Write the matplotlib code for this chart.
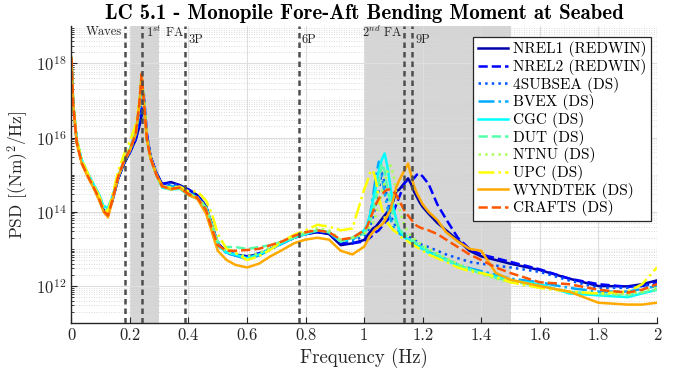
import numpy as np
import matplotlib
matplotlib.use("Agg")
import matplotlib.pyplot as plt
from matplotlib.ticker import FixedLocator, FuncFormatter, NullFormatter

plt.rcParams['font.family'] = 'cmr10'
plt.rcParams['mathtext.fontset'] = 'cm'
plt.rcParams['axes.formatter.use_mathtext'] = True

# frequency grid (Hz), shared by all series
freq = [0, 0.006, 0.018, 0.035, 0.055, 0.075, 0.095, 0.11, 0.125, 0.14,
        0.16, 0.18, 0.2, 0.22, 0.232, 0.24, 0.248, 0.258, 0.27, 0.29,
        0.31, 0.34, 0.37, 0.4, 0.43, 0.46, 0.48, 0.5, 0.53, 0.56,
        0.6, 0.64, 0.68, 0.72, 0.76, 0.8, 0.84, 0.88, 0.92, 0.96,
        1.0, 1.01, 1.02, 1.03, 1.04, 1.05, 1.06, 1.07, 1.08, 1.09,
        1.1, 1.11, 1.12, 1.13, 1.14, 1.15, 1.16, 1.17, 1.18, 1.19,
        1.2, 1.22, 1.25, 1.28, 1.32, 1.36, 1.4, 1.45, 1.5, 1.6,
        1.7, 1.8, 1.9, 1.95, 2.0]

# log10 of PSD [(Nm)^2/Hz]
nrel1 = [18.12, 16.9, 15.9, 15.35, 15.0, 14.7, 14.35, 14.05, 13.95, 14.3,
         14.9, 15.3, 15.6, 15.95, 16.3, 16.6, 16.82, 16.0, 15.5, 15.05,
         14.75, 14.8, 14.72, 14.6, 14.45, 14.15, 13.65, 13.15, 12.9, 12.85,
         12.8, 12.85, 13.0, 13.15, 13.3, 13.4, 13.45, 13.4, 13.1, 13.15,
         13.24, 13.35, 13.45, 13.55, 13.6, 13.7, 13.8, 13.9, 14.0, 14.1,
         14.3, 14.55, 14.6, 14.7, 14.8, 14.9, 14.75, 14.55, 14.4, 14.25,
         14.13, 13.95, 13.7, 13.5, 13.24, 12.95, 12.8, 12.7, 12.6, 12.43,
         12.2, 12.0, 11.99, 12.05, 12.15]
nrel2 = [18.12, 16.9, 15.9, 15.35, 15.0, 14.7, 14.35, 14.05, 13.95, 14.3,
         14.9, 15.3, 15.6, 15.95, 16.4, 16.8, 17.05, 16.1, 15.5, 15.05,
         14.75, 14.78, 14.7, 14.6, 14.45, 14.15, 13.65, 13.15, 12.92, 12.85,
         12.8, 12.88, 13.0, 13.15, 13.3, 13.4, 13.45, 13.42, 13.15, 13.15,
         13.2, 13.25, 13.3, 13.38, 13.45, 13.5, 13.6, 13.7, 13.78, 13.9,
         14.0, 14.2, 14.4, 14.6, 14.8, 14.85, 14.85, 14.9, 15.0, 15.03,
         14.95, 14.75, 14.2, 13.8, 13.3, 13.0, 12.85, 12.75, 12.65, 12.45,
         12.2, 12.05, 11.98, 12.0, 12.1]
subsea = [18.12, 16.9, 15.9, 15.35, 15.0, 14.7, 14.35, 14.05, 13.98, 14.3,
          14.9, 15.3, 15.62, 16.0, 16.5, 17.0, 17.15, 16.05, 15.5, 15.05,
          14.72, 14.75, 14.7, 14.55, 14.42, 14.12, 13.62, 13.12, 12.9, 12.82,
          12.78, 12.85, 13.0, 13.15, 13.3, 13.42, 13.48, 13.45, 13.2, 13.2,
          13.35, 13.45, 13.6, 13.85, 14.2, 14.6, 15.05, 14.8, 14.3, 13.95,
          13.7, 13.6, 13.5, 13.45, 13.4, 13.35, 13.3, 13.25, 13.2, 13.15,
          13.1, 13.05, 12.95, 12.85, 12.75, 12.65, 12.6, 12.55, 12.5, 12.38,
          12.15, 11.95, 11.95, 12.0, 12.05]
bvex = [18.12, 16.95, 15.95, 15.4, 15.05, 14.75, 14.45, 14.15, 14.12, 14.4,
        14.95, 15.35, 15.65, 16.1, 16.8, 17.5, 16.95, 15.95, 15.45, 15.0,
        14.65, 14.7, 14.65, 14.5, 14.38, 14.1, 13.6, 13.1, 12.88, 12.82,
        12.72, 12.82, 12.98, 13.15, 13.3, 13.4, 13.5, 13.45, 13.2, 13.25,
        13.45, 13.6, 13.9, 14.4, 14.95, 15.35, 15.0, 14.5, 14.1, 13.8,
        13.6, 13.5, 13.42, 13.36, 13.3, 13.25, 13.2, 13.15, 13.1, 13.05,
        13.0, 12.92, 12.82, 12.72, 12.58, 12.48, 12.4, 12.3, 12.2, 12.1,
        11.95, 11.85, 11.85, 11.92, 12.0]
cgc = [18.15, 16.95, 15.95, 15.4, 15.05, 14.75, 14.45, 14.15, 14.1, 14.38,
       14.95, 15.4, 15.7, 16.15, 16.9, 17.65, 16.95, 15.95, 15.45, 15.0,
       14.65, 14.6, 14.62, 14.45, 14.35, 14.1, 13.6, 13.1, 12.9, 12.85,
       12.75, 12.85, 13.0, 13.15, 13.3, 13.4, 13.5, 13.45, 13.2, 13.3,
       13.5, 13.65, 13.9, 14.3, 14.67, 15.1, 15.4, 15.57, 15.2, 14.67,
       14.1, 13.78, 13.5, 13.4, 13.3, 13.25, 13.2, 13.15, 13.1, 13.05,
       13.0, 12.9, 12.8, 12.7, 12.55, 12.45, 12.35, 12.25, 12.15, 12.05,
       11.8, 11.75, 11.7, 11.8, 11.9]
dut = [18.15, 16.92, 15.92, 15.38, 15.02, 14.72, 14.42, 14.08, 14.05, 14.35,
       14.95, 15.38, 15.68, 16.12, 16.85, 17.6, 16.95, 15.95, 15.45, 15.0,
       14.68, 14.65, 14.65, 14.5, 14.38, 14.12, 13.65, 13.2, 13.05, 13.05,
       13.0, 13.05, 13.1, 13.2, 13.3, 13.42, 13.5, 13.45, 13.2, 13.3,
       13.4, 13.55, 13.75, 14.0, 14.35, 14.75, 15.3, 15.1, 14.6, 14.2,
       13.9, 13.7, 13.55, 13.45, 13.38, 13.32, 13.25, 13.2, 13.15, 13.1,
       13.05, 12.95, 12.85, 12.72, 12.58, 12.45, 12.35, 12.22, 12.12, 12.0,
       11.85, 11.78, 11.75, 11.82, 11.9]
ntnu = [18.15, 16.92, 15.92, 15.38, 15.02, 14.72, 14.4, 14.05, 14.0, 14.35,
        14.98, 15.42, 15.72, 16.15, 16.85, 17.6, 16.95, 15.95, 15.45, 15.0,
        14.65, 14.62, 14.62, 14.48, 14.38, 14.12, 13.62, 13.12, 12.92, 12.88,
        12.8, 12.88, 13.05, 13.2, 13.35, 13.45, 13.55, 13.5, 13.25, 13.3,
        13.4, 13.5, 13.6, 13.7, 13.9, 14.2, 14.5, 14.8, 15.1, 15.25,
        15.0, 14.5, 14.1, 13.8, 13.6, 13.45, 13.35, 13.28, 13.2, 13.15,
        13.1, 13.0, 12.88, 12.75, 12.6, 12.45, 12.32, 12.2, 12.1, 11.98,
        11.85, 11.8, 11.78, 11.85, 11.95]
upc = [18.15, 16.95, 15.95, 15.4, 15.05, 14.72, 14.42, 14.1, 14.0, 14.45,
       15.1, 15.55, 15.9, 16.35, 16.95, 17.6, 16.9, 15.95, 15.45, 15.0,
       14.68, 14.65, 14.68, 14.55, 14.55, 14.3, 13.95, 13.4, 13.0, 12.9,
       12.7, 12.8, 12.98, 13.2, 13.38, 13.5, 13.65, 13.6, 13.5, 13.55,
       14.6, 14.8, 15.05, 15.12, 14.85, 14.4, 14.1, 13.85, 13.7, 13.6,
       13.5, 13.45, 13.35, 13.3, 13.25, 13.2, 13.15, 13.1, 13.05, 13.0,
       12.95, 12.85, 12.75, 12.65, 12.5, 12.4, 12.35, 12.25, 12.1, 11.95,
       11.85, 11.8, 11.85, 12.05, 12.5]
wyndtek = [18.15, 16.9, 15.85, 15.3, 14.95, 14.65, 14.3, 14.0, 13.85, 14.3,
           14.95, 15.35, 15.65, 16.1, 16.9, 17.72, 16.9, 15.95, 15.45, 15.0,
           14.7, 14.6, 14.65, 14.45, 14.35, 13.95, 13.45, 12.95, 12.7, 12.57,
           12.5, 12.6, 12.8, 12.97, 13.15, 13.25, 13.3, 13.25, 12.95, 12.85,
           13.06, 13.2, 13.35, 13.45, 13.55, 13.6, 13.65, 13.75, 13.9, 14.05,
           14.35, 14.67, 14.85, 15.0, 15.15, 15.3, 15.0, 14.7, 14.5, 14.35,
           14.2, 14.0, 13.78, 13.45, 13.2, 13.0, 12.95, 12.35, 12.17, 12.0,
           11.85, 11.55, 11.5, 11.5, 11.55]
crafts = [18.15, 16.9, 15.88, 15.32, 14.98, 14.68, 14.35, 14.02, 13.9, 14.32,
          14.95, 15.38, 15.68, 16.12, 16.9, 17.72, 16.92, 15.95, 15.45, 15.0,
          14.68, 14.62, 14.65, 14.48, 14.38, 14.05, 13.55, 13.1, 12.95, 12.95,
          12.97, 13.0, 13.1, 13.2, 13.35, 13.45, 13.5, 13.45, 13.25, 13.3,
          13.5, 13.6, 13.8, 14.0, 14.2, 14.35, 14.45, 14.55, 14.6, 14.6,
          14.55, 14.45, 14.3, 14.15, 14.0, 13.9, 13.8, 13.7, 13.62, 13.58,
          13.55, 13.5, 13.4, 13.25, 13.05, 12.85, 12.7, 12.5, 12.35, 12.1,
          12.05, 11.9, 11.82, 11.9, 12.05]

series = [
    ("NREL1 (REDWIN)", nrel1, (0, 0, 0.6667), '-'),
    ("NREL2 (REDWIN)", nrel2, (0, 0, 1), '--'),
    ("4SUBSEA (DS)", subsea, (0, 0.3333, 1), ':'),
    ("BVEX (DS)", bvex, (0, 0.6667, 1), '-.'),
    ("CGC (DS)", cgc, (0, 1, 1), '-'),
    ("DUT (DS)", dut, (0.3333, 1, 0.6667), '--'),
    ("NTNU (DS)", ntnu, (0.6667, 1, 0.3333), ':'),
    ("UPC (DS)", upc, (1, 1, 0), '-.'),
    ("WYNDTEK (DS)", wyndtek, (1, 0.6667, 0), '-'),
    ("CRAFTS (DS)", crafts, (1, 0.3333, 0), '--'),
]

# reference frequencies and shaded bands
fa_bands = [(0.2, 0.3), (1.0, 1.5)]
markers = [0.183, 0.241, 0.389, 0.777, 1.137, 1.163]
marker_text = [("Waves", 0.173, 0.98, 'right'),
               (r"1$^{st}$ FA", 0.255, 0.98, 'left'),
               ("3P", 0.399, 0.953, 'left'),
               ("6P", 0.787, 0.953, 'left'),
               (r"2$^{nd}$ FA", 1.131, 0.98, 'right'),
               ("9P", 1.175, 0.953, 'left')]

fig = plt.figure(figsize=(6.8, 3.74), dpi=100)
ax = fig.add_axes([0.105, 0.136, 0.861, 0.794])

for lo, hi in fa_bands:
    ax.axvspan(lo, hi, color='#d6d6d6', lw=0, zorder=0.5)

for name, vals, col, ls in series:
    ax.plot(freq, 10.0 ** np.array(vals), color=col, ls=ls, lw=1.8, label=name, zorder=2)

for x in markers:
    ax.axvline(x, color='#4d4d4d', ls=(0, (2.2, 1.6)), lw=1.8, zorder=3)

for txt, x, y, ha in marker_text:
    ax.text(x, y, txt, transform=ax.get_xaxis_transform(), ha=ha, va='center',
            fontsize=9, color='#262626', zorder=4)

ax.set_yscale('log')
ax.set_xlim(0, 2)
ax.set_ylim(1e11, 1e19)
ax.set_xticks(np.arange(0, 2.01, 0.2))
ax.xaxis.set_major_formatter(FuncFormatter(lambda v, p: '%g' % round(v, 2)))
ax.yaxis.set_major_locator(FixedLocator([1e12, 1e14, 1e16, 1e18]))
minor = [k * 10.0 ** n for n in range(11, 19) for k in range(1, 10)
         if not (k == 1 and n % 2 == 0)]
ax.yaxis.set_minor_locator(FixedLocator(minor))
ax.yaxis.set_minor_formatter(NullFormatter())

ax.grid(True, which='major', color='#dedede', lw=0.8, zorder=0)
ax.grid(True, which='minor', axis='y', color='#cfcfcf', lw=0.6, ls=(0, (1, 2)), zorder=0)
ax.set_axisbelow(True)

for s in ['top', 'right']:
    ax.spines[s].set_visible(False)
for s in ['left', 'bottom']:
    ax.spines[s].set_color('#262626')
    ax.spines[s].set_linewidth(1.0)
ax.tick_params(direction='in', which='both', colors='#262626', labelsize=12)
ax.tick_params(which='major', length=4)
ax.tick_params(which='minor', length=2.5)

ax.set_xlabel("Frequency (Hz)", fontsize=13.5, color='#262626', labelpad=3)
ax.set_ylabel(r"PSD [(Nm)$^2$/Hz]", fontsize=12.5, color='#262626')
ax.set_title("LC 5.1 - Monopile Fore-Aft Bending Moment at Seabed",
             fontsize=15, fontfamily='cmb10', pad=5)

leg = ax.legend(loc='upper right', bbox_to_anchor=(0.995, 0.975), fontsize=11,
                handlelength=2.0, handletextpad=0.3, labelspacing=0.11,
                borderpad=0.3, borderaxespad=0.2, fancybox=False, framealpha=1,
                edgecolor='#262626')
leg.get_frame().set_linewidth(0.9)

fig.savefig("out.png", dpi=100)
